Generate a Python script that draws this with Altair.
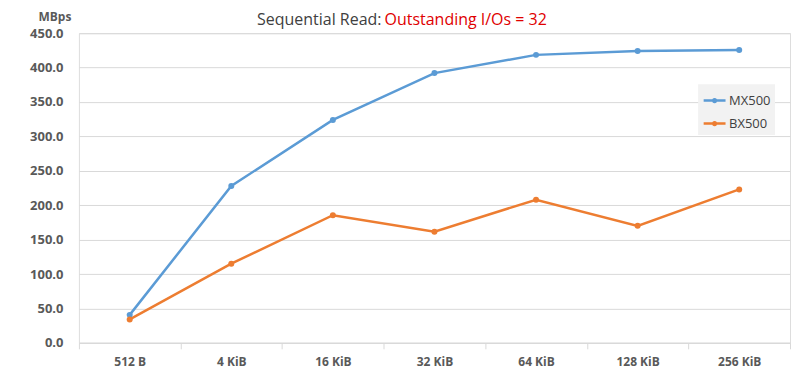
import altair as alt
import pandas as pd

categories = ["512 B", "4 KiB", "16 KiB", "32 KiB", "64 KiB", "128 KiB", "256 KiB"]
mx500 = [40.6, 228.0, 324.0, 392.0, 418.5, 424.0, 425.5]
bx500 = [34.0, 115.0, 185.5, 161.5, 208.0, 170.0, 223.0]
series_names = ["MX500", "BX500"]
series_colors = ["#5b9bd5", "#ed7d31"]
title_parts = ["Sequential Read:", "Outstanding I/Os = 32"]
y_unit = "MBps"

rows = []
for c, v in zip(categories, mx500):
    rows.append({"size": c, "value": v, "series": "MX500"})
for c, v in zip(categories, bx500):
    rows.append({"size": c, "value": v, "series": "BX500"})
df = pd.DataFrame(rows)

FONT = "Open Sans"
GREY = "#595959"

legend_symbol = "M-1,0H1M-0.12,0a0.12,0.12 0 1,0 0.24,0a0.12,0.12 0 1,0 -0.24,0Z"

x_enc = alt.X(
    "size:N",
    sort=categories,
    scale=alt.Scale(type="band", paddingInner=0, paddingOuter=0),
    axis=alt.Axis(
        title=None, labelAngle=0, tickBand="extent", domainColor="#d9d9d9",
        tickColor="#d9d9d9", tickSize=6, labelPadding=8, labelFontSize=12,
        labelColor=GREY, labelFont=FONT, labelFontWeight="bold", grid=False,
    ),
)
y_enc = alt.Y(
    "value:Q",
    scale=alt.Scale(domain=[0, 450]),
    axis=alt.Axis(
        title=None, values=list(range(0, 451, 50)), format=".1f", domain=False,
        ticks=False, gridColor="#d9d9d9", labelPadding=16, labelFontSize=13,
        labelColor=GREY, labelFont=FONT, labelFontWeight="bold",
        labelOverlap=False,
    ),
)
color_enc = alt.Color(
    "series:N",
    scale=alt.Scale(domain=series_names, range=series_colors),
    legend=alt.Legend(
        title=None, orient="none", legendX=620, legendY=51, fillColor="#f2f2f2",
        padding=4, symbolType=legend_symbol, symbolSize=480, symbolStrokeWidth=2.5,
        labelFont=FONT, labelFontSize=13, labelColor="#404040", rowPadding=3,
        labelOffset=2,
    ),
)

lines = alt.Chart(df).mark_line(strokeWidth=2.5).encode(
    x=x_enc, y=y_enc, color=color_enc
)
points = alt.Chart(df).mark_circle(size=36, opacity=1).encode(
    x=x_enc, y=y_enc, color=color_enc
)

tdf = pd.DataFrame({"t1": [title_parts[0]], "t2": [title_parts[1]], "u": [y_unit]})
t1 = alt.Chart(tdf).mark_text(
    align="right", baseline="middle", font=FONT, fontSize=16, fontWeight=500,
    color="#404040"
).encode(text="t1:N", x=alt.value(303), y=alt.value(-13))
t2 = alt.Chart(tdf).mark_text(
    align="left", baseline="middle", font=FONT, fontSize=16, fontWeight=500,
    color="#e00000"
).encode(text="t2:N", x=alt.value(306), y=alt.value(-13))
unit = alt.Chart(tdf).mark_text(
    align="center", baseline="middle", font=FONT, fontSize=12, fontWeight="bold",
    color=GREY
).encode(text="u:N", x=alt.value(-24), y=alt.value(-16))

chart = (lines + points + t1 + t2 + unit).properties(
    width=712, height=310,
    autosize=alt.AutoSizeParams(type="none"),
    padding={"left": 71, "top": 25, "right": 2, "bottom": 32},
).configure_view(strokeWidth=0).configure(background="white")

chart.save("out.html", embed_options={"renderer": "svg", "actions": False})
